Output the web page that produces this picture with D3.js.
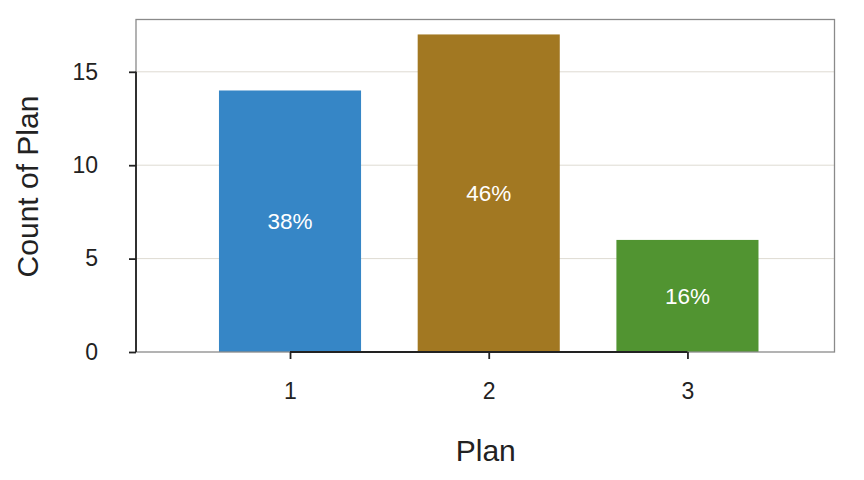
<!DOCTYPE html>
<html><head><meta charset="utf-8">
<script src="https://cdn.jsdelivr.net/npm/d3@7"></script>
<style>body{margin:0;background:#fff}text{font-family:"Liberation Sans",Arial,sans-serif}</style>
</head><body>
<svg id="c" width="864" height="480"></svg>
<script>
const categories = [1, 2, 3];
const counts = [14, 17, 6];
const percentLabels = ["38%", "46%", "16%"];
const barColors = ["#3686c6", "#a27822", "#519431"];
const yTicks = [0, 5, 10, 15];

const svg = d3.select("#c");
const L = 136, R = 834.5, T = 19.5, B = 352;
const x = d3.scaleLinear().domain([0.225, 3.74]).range([L, R]);
const y = d3.scaleLinear().domain([0, 17.8]).range([B, T]);
const bw = x(1.715) - x(1);

// grid
svg.append("g").selectAll("line").data(yTicks.filter(d => d > 0)).join("line")
  .attr("x1", L).attr("x2", R).attr("y1", d => y(d)).attr("y2", d => y(d))
  .attr("stroke", "#dedbd2").attr("stroke-width", 1);

// bars
svg.append("g").selectAll("rect").data(categories).join("rect")
  .attr("x", (d) => x(d) - bw / 2).attr("width", bw)
  .attr("y", (d, i) => y(counts[i])).attr("height", (d, i) => B - y(counts[i]))
  .attr("fill", (d, i) => barColors[i]);

// panel border
svg.append("rect").attr("x", L).attr("y", T).attr("width", R - L).attr("height", B - T)
  .attr("fill", "none").attr("stroke", "#8a8a8a").attr("stroke-width", 1.3);

// labels
svg.append("g").selectAll("text").data(categories).join("text")
  .attr("x", d => x(d)).attr("y", (d, i) => y(counts[i] / 2))
  .attr("dy", "0.36em").attr("text-anchor", "middle")
  .attr("fill", "#fff").attr("font-size", 22.5).text((d, i) => percentLabels[i]);

// y axis (capped)
const ya = d3.axisLeft(y).tickValues(yTicks).tickSize(7).tickPadding(31);
const gy = svg.append("g").attr("transform", `translate(${L},0)`).call(ya);
gy.select(".domain").remove();
gy.append("line").attr("x1", 0).attr("x2", 0).attr("y1", y(15)).attr("y2", y(0))
  .attr("stroke", "#222").attr("stroke-width", 1.8);
gy.selectAll(".tick line").attr("stroke", "#222").attr("stroke-width", 1.8);
gy.selectAll(".tick text").attr("fill", "#222").attr("font-size", 23)
  .attr("font-family", "Liberation Sans, Arial, sans-serif");

// x axis (capped)
const xa = d3.axisBottom(x).tickValues(categories).tickFormat(d3.format("d")).tickSize(7).tickPadding(24);
const gx = svg.append("g").attr("transform", `translate(0,${B})`).call(xa);
gx.select(".domain").remove();
gx.append("line").attr("x1", x(1)).attr("x2", x(3)).attr("y1", 0).attr("y2", 0)
  .attr("stroke", "#222").attr("stroke-width", 1.8);
gx.selectAll(".tick line").attr("stroke", "#222").attr("stroke-width", 1.8);
gx.selectAll(".tick text").attr("fill", "#222").attr("font-size", 23)
  .attr("font-family", "Liberation Sans, Arial, sans-serif");

// titles
svg.append("text").attr("x", (L + R) / 2 + 0.5).attr("y", 460.5).attr("text-anchor", "middle")
  .attr("fill", "#222").attr("font-size", 30).text("Plan");
svg.append("text").attr("transform", "translate(37.5,186.5) rotate(-90)").attr("text-anchor", "middle")
  .attr("fill", "#222").attr("font-size", 30).text("Count of Plan");
</script>
</body></html>
